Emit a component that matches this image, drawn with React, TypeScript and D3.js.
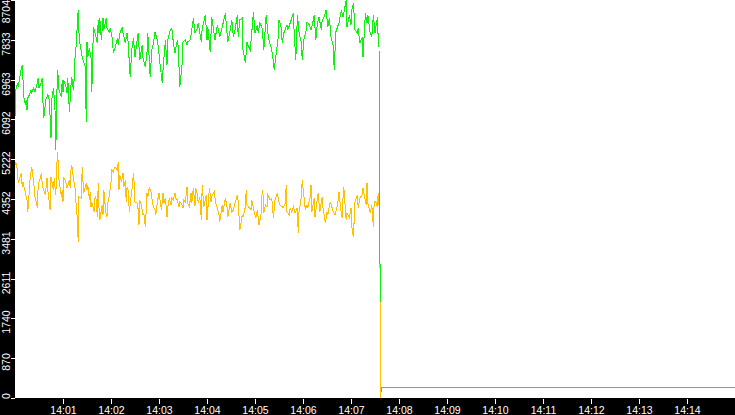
import React from 'react';
import * as d3 from 'd3';

// time window of the chart (local clock time)
const startTime = '14:00:00';
const endTime = '14:15:00';

const timeLabels = [
  '14:01', '14:02', '14:03', '14:04', '14:05', '14:06', '14:07',
  '14:08', '14:09', '14:10', '14:11', '14:12', '14:13', '14:14',
];

const valueMax = 8704;
const valueLabels = [0, 870, 1740, 2611, 3481, 4352, 5222, 6092, 6963, 7833, 8704];

// [seconds after 14:00:00, value]; null = no sample
const greenSeries: [number, number | null][] = [
  [0, 6145], [1, 6736], [3, 6890], [4, 6800], [5, 6910], [8, 7220], [9, 7280], [10, 6955],
  [11, 6580], [13, 6410], [14, 6520], [15, 6300], [16, 6560], [18, 6630], [20, 6740], [21, 6670],
  [23, 6780], [25, 6690], [28, 6890], [29, 6990], [30, 6780], [33, 6910], [34, 6990], [35, 6450],
  [36, 6120], [39, 6580], [40, 6580], [41, 6630], [43, 6520], [45, 5690], [46, 6520], [48, 6780],
  [49, 6580], [50, 6300], [51, 5420], [53, 7170], [54, 7020], [55, 6740], [58, 6580], [59, 6950],
  [60, 6690], [61, 6950], [64, 6780], [65, 6670], [66, 6990], [68, 6250], [70, 6850], [71, 7020],
  [73, 6740], [74, 6990], [75, 7440], [76, 7610], [78, 8200], [79, 8490], [80, 7980], [81, 7760],
  [84, 7460], [85, 7390], [88, 7240], [89, 6040], [90, 7790], [91, 7460], [93, 7650], [95, 7440],
  [96, 6690], [98, 8110], [100, 7980], [103, 7760], [104, 8270], [105, 7980], [106, 8310], [108, 7830],
  [110, 8310], [111, 8050], [114, 8310], [115, 8090], [118, 8000], [119, 8090], [121, 7940], [123, 7550],
  [125, 7650], [128, 7870], [129, 7720], [131, 7980], [134, 8090], [135, 7980], [138, 7760], [140, 7980],
  [141, 7890], [144, 7020], [146, 7610], [148, 7870], [150, 7460], [153, 7870], [154, 7980], [156, 7390],
  [159, 7720], [160, 7440], [163, 7240], [165, 7550], [166, 7980], [169, 7020], [171, 7610], [173, 7760],
  [175, 8000], [178, 7830], [179, 7680], [181, 7350], [184, 6890], [185, 7170], [188, 7830], [190, 7280],
  [191, 7830], [194, 8050], [196, 8090], [198, 7760], [200, 7550], [203, 7830], [204, 7680], [206, 6800],
  [209, 7330], [210, 7790], [213, 7830], [215, 7720], [216, 7790], [219, 7830], [221, 8050], [223, 8310],
  [225, 7980], [228, 8090], [229, 8200], [233, 7790], [234, 8090], [238, 8380], [240, 7830], [241, 8110],
  [244, 7570], [246, 8330], [250, 7830], [253, 8160], [256, 7890], [259, 8110], [263, 8420], [265, 7980],
  [266, 7790], [269, 8050], [271, 8270], [273, 7890], [275, 8050], [278, 8380], [279, 7890], [281, 8270],
  [284, 8310], [285, 7610], [288, 7330], [290, 7790], [291, 7720], [294, 7610], [296, 8000], [298, 8440],
  [300, 7980], [303, 8160], [304, 7980], [306, 8200], [309, 8090], [311, 7610], [314, 8380], [316, 7980],
  [318, 7790], [321, 7610], [323, 7350], [324, 7170], [326, 7460], [329, 7890], [330, 8270], [333, 8090],
  [334, 7760], [336, 7980], [340, 8160], [341, 8050], [344, 8200], [348, 8420], [349, 7980], [351, 7390],
  [353, 8380], [355, 8000], [358, 7760], [359, 7390], [361, 7830], [364, 8050], [365, 8220], [368, 8160],
  [370, 8050], [373, 8270], [374, 8380], [376, 7830], [378, 8200], [380, 8330], [383, 8050], [384, 8270],
  [386, 8310], [389, 8490], [391, 8110], [393, 8310], [395, 7890], [398, 7680], [399, 7170], [401, 8000],
  [404, 8160], [405, 8200], [408, 8490], [410, 8330], [411, 8420], [414, 8700], [415, 8110], [418, 8380],
  [420, 8160], [421, 8490], [423, 8640], [425, 8050], [428, 7980], [429, 8090], [431, 7760], [434, 7890],
  [435, 7460], [438, 8420], [440, 8200], [441, 8380], [444, 7980], [446, 7890], [448, 8380], [450, 7980],
  [453, 8330], [454, 7870], [455, 7680], [456, 3830], [456.5, 2100], [457, null], [457.5, 120],
  [458, 240], [900, 240],
];

const yellowSeries: [number, number | null][] = [
  [0, 5100], [1, 5160], [3, 4990], [4, 4700], [6, 4810], [8, 4920], [9, 4610], [10, 4720],
  [13, 4480], [15, 4330], [16, 4070], [18, 4550], [19, 4830], [21, 5050], [23, 4770], [25, 4400],
  [28, 4160], [29, 4660], [31, 4770], [33, 4920], [34, 4700], [35, 4590], [38, 4440], [40, 4810],
  [41, 4550], [44, 4110], [45, 4830], [48, 4550], [49, 4810], [51, 4440], [52, 4940], [53, 5380],
  [54, 5160], [55, 4770], [58, 4400], [59, 4550], [60, 4290], [61, 4830], [64, 4700], [65, 4590],
  [68, 4770], [69, 4590], [70, 4990], [71, 5100], [73, 4810], [75, 4590], [76, 4330], [78, 3890],
  [79, 3410], [80, 4400], [83, 4370], [84, 5050], [85, 4720], [86, 4480], [89, 4700], [90, 4550],
  [91, 4660], [93, 4330], [94, 4510], [95, 4180], [96, 4290], [99, 4070], [100, 4370], [101, 4400],
  [103, 3960], [104, 4700], [105, 4160], [106, 3890], [109, 4220], [110, 4000], [111, 4550], [113, 4160],
  [114, 4000], [115, 3960], [116, 4260], [118, 4440], [120, 4720], [121, 4990], [123, 4940], [124, 5030],
  [125, 5050], [128, 4990], [129, 5160], [130, 4550], [131, 4880], [133, 4720], [135, 4920], [136, 4610],
  [138, 4770], [139, 4290], [140, 4590], [141, 4610], [143, 4070], [145, 4400], [146, 4510], [148, 4920],
  [149, 4700], [150, 4290], [153, 4260], [154, 4110], [155, 3780], [156, 4330], [158, 4220], [160, 4000],
  [161, 4050], [163, 3740], [165, 4480], [166, 4400], [168, 4610], [170, 4510], [171, 4370], [173, 4180],
  [175, 4110], [176, 4000], [178, 4290], [180, 4480], [181, 4370], [183, 4110], [185, 4480], [186, 4260],
  [188, 4370], [190, 3960], [191, 4180], [193, 4370], [195, 4220], [196, 4370], [198, 4330], [200, 4480],
  [201, 4370], [203, 4330], [205, 4180], [206, 4290], [208, 4260], [210, 4160], [211, 4330], [213, 4290],
  [215, 4610], [216, 4260], [218, 4180], [220, 4480], [221, 4260], [223, 4600], [225, 4200], [226, 4590],
  [228, 4440], [229, 4260], [231, 4400], [233, 3890], [234, 4660], [236, 4180], [239, 4440], [240, 3890],
  [243, 4590], [245, 4290], [246, 4400], [249, 4510], [251, 4260], [253, 4160], [255, 4000], [256, 3850],
  [259, 4220], [260, 4070], [263, 4370], [265, 4180], [266, 3960], [269, 4260], [271, 4070], [273, 4110],
  [275, 4260], [278, 4440], [279, 4290], [281, 3670], [284, 4000], [285, 3960], [288, 4180], [289, 4550],
  [290, 4220], [293, 4160], [295, 4110], [296, 4330], [299, 4070], [301, 3940], [303, 4110], [305, 3780],
  [308, 4070], [309, 4550], [310, 4440], [311, 4050], [313, 4220], [315, 4180], [316, 4440], [319, 4330],
  [321, 4370], [323, 3940], [325, 4330], [328, 4480], [329, 4370], [331, 4220], [334, 4180], [335, 4160],
  [338, 4260], [339, 4660], [340, 4070], [343, 4000], [344, 4160], [346, 4070], [348, 4180], [350, 4050],
  [353, 4160], [354, 3610], [355, 4070], [358, 4400], [359, 4770], [360, 4590], [363, 4110], [365, 4220],
  [366, 4160], [369, 4400], [370, 4660], [371, 4070], [374, 4370], [375, 3960], [378, 4370], [379, 4480],
  [381, 4070], [384, 4400], [385, 4160], [388, 3830], [390, 4070], [391, 4000], [394, 4290], [396, 4180],
  [398, 4070], [400, 4000], [403, 4220], [404, 4330], [405, 4510], [408, 4000], [409, 3940], [410, 4370],
  [411, 4610], [414, 3890], [415, 4050], [418, 3940], [420, 4160], [421, 3740], [423, 3520], [425, 4290],
  [428, 4440], [429, 4160], [431, 4370], [434, 4440], [435, 4590], [436, 4480], [439, 4220], [440, 4700],
  [441, 4260], [444, 4050], [446, 4220], [448, 3740], [449, 4290], [451, 4290], [453, 4180], [454, 4480],
  [455, 4220], [456, 3850], [457, 0], [900, 0],
];

const WIDTH = 735;
const HEIGHT = 415;
const AXIS_LEFT = 15;
const PLOT_BOTTOM = 398;
const GREEN = '#11ee11';
const YELLOW = '#ffc000';
const FONT = '"Liberation Sans", Arial, sans-serif';
const FONT_SIZE = 10.5;

const parseClock = d3.timeParse('%H:%M:%S');
const parseMinute = d3.timeParse('%H:%M');

const App: React.FC = () => {
  const t0 = parseClock(startTime) as Date;
  const t1 = parseClock(endTime) as Date;

  const xScale = d3.scaleTime().domain([t0, t1]).range([AXIS_LEFT, WIDTH]);
  const yScale = d3.scaleLinear().domain([0, valueMax]).range([PLOT_BOTTOM, 0]);

  const line = d3.line<[number, number | null]>()
    .defined(d => d[1] !== null)
    .x(d => xScale(new Date(t0.getTime() + d[0] * 1000)))
    .y(d => yScale(d[1] as number));

  const charW = 0.556 * FONT_SIZE;

  return (
    <svg
      width={WIDTH}
      height={HEIGHT}
      style={{ position: 'absolute', left: 0, top: 0, display: 'block' }}
    >
      <defs>
        <clipPath id="plot-clip">
          <rect x={AXIS_LEFT} y={0} width={WIDTH - AXIS_LEFT} height={PLOT_BOTTOM} />
        </clipPath>
      </defs>
      <rect x={0} y={0} width={WIDTH} height={HEIGHT} fill="#fff" />

      <g clipPath="url(#plot-clip)">
        <path d={line(yellowSeries) || ''} fill="none" stroke={YELLOW} strokeWidth={1} shapeRendering="crispEdges" />
        <path d={line(greenSeries) || ''} fill="none" stroke={GREEN} strokeWidth={1} shapeRendering="crispEdges" />
      </g>

      {/* axis bands */}
      <rect x={0} y={0} width={AXIS_LEFT} height={HEIGHT} fill="#000" />
      <rect x={0} y={PLOT_BOTTOM} width={WIDTH} height={HEIGHT - PLOT_BOTTOM} fill="#000" />

      {/* y axis */}
      {valueLabels.map(v => {
        const y = Math.round(yScale(v));
        const label = String(v);
        const half = (label.length * charW) / 2;
        const c = Math.max(half, Math.min(PLOT_BOTTOM - half + 1, y + 4));
        return (
          <g key={'y' + v}>
            <line x1={11} x2={AXIS_LEFT} y1={y + 0.5} y2={y + 0.5} stroke="#fff" strokeWidth={1} />
            <text
              transform={`translate(10,${c}) rotate(-90)`}
              textAnchor="middle"
              fill="#fff"
              fontFamily={FONT}
              fontSize={FONT_SIZE}
            >
              {label}
            </text>
          </g>
        );
      })}

      {/* x axis */}
      {timeLabels.map(lbl => {
        const x = Math.round(xScale(parseMinute(lbl) as Date)) + 0.5;
        return (
          <g key={lbl}>
            <line x1={x} x2={x} y1={PLOT_BOTTOM + 1} y2={PLOT_BOTTOM + 6} stroke="#fff" strokeWidth={1} />
            <text x={x} y={414} textAnchor="middle" fill="#fff" fontFamily={FONT} fontSize={FONT_SIZE}>
              {lbl}
            </text>
          </g>
        );
      })}
    </svg>
  );
};

export default App;
